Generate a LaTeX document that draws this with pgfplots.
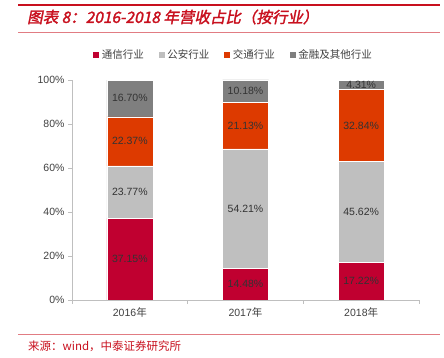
\documentclass[border=0pt]{standalone}
\usepackage{pgfplots}
\pgfplotsset{compat=1.18}
\usepackage{fontspec}
\setmainfont{Liberation Sans}
\newfontfamily\cjk{Noto Sans CJK SC}
\newfontfamily\cjktitle[FakeSlant=0.2,FakeBold=2]{Noto Sans CJK SC}
\definecolor{c1}{RGB}{192,0,48}
\definecolor{c2}{RGB}{191,191,191}
\definecolor{c3}{RGB}{221,58,0}
\definecolor{c4}{RGB}{127,127,127}
\definecolor{titlered}{RGB}{200,16,30}
\definecolor{axgray}{RGB}{191,191,191}
\definecolor{txt}{RGB}{64,64,64}
\begin{document}
\begin{tikzpicture}[x=1pt,y=1pt]
\path[use as bounding box] (0,0) rectangle (444,358);
\draw[titlered, line width=2.5pt] (18,353) -- (440,353);
\node[anchor=west, text=titlered, font=\cjktitle\fontsize{15.5}{17}\selectfont, inner sep=0pt] at (27,341) {图表 8：2016-2018 年营收占比（按行业）};
\draw[titlered!55, line width=0.6pt] (18,326) -- (440,326);
\draw[titlered!55, line width=0.6pt] (18,24) -- (440,24);
\node[anchor=west, text=titlered, font=\cjk\fontsize{11.5}{13}\selectfont, inner sep=0pt] at (28,12) {来源：wind，中泰证券研究所};
\begin{axis}[
  at={(72pt,58pt)}, anchor=south west,
  scale only axis, width=347pt, height=220pt,
  ybar stacked, bar width=46pt,
  xmin=-0.5, xmax=2.5, ymin=0, ymax=100,
  axis x line*=bottom, axis y line*=left,
  axis line style={axgray, line width=0.8pt},
  tick style={axgray, line width=0.8pt},
  tick align=outside,
  ytick={0,20,...,100},
  yticklabel={\pgfmathprintnumber{\tick}\%},
  xtick={0,1,2},
  xticklabels={2016{\cjk 年},2017{\cjk 年},2018{\cjk 年}},
  major x tick style={draw=none},
  minor xtick={-0.5,0.5,1.5,2.5},
  minor tick length=4pt, major tick length=4pt,
  ticklabel style={font=\fontsize{10.5}{12}\selectfont, text=txt},
  /pgf/number format/assume math mode=true,
  legend style={at={(0.464,1.114)}, anchor=center, legend columns=4, draw=none,
    font=\cjk\fontsize{10.5}{12}\selectfont, text=txt,
    /tikz/every even column/.append style={column sep=12pt}},
  legend image code/.code={\fill[#1] (0pt,-3.5pt) rectangle (7pt,3.5pt);},
]
\addplot[fill=c1, draw=white, line width=0.5pt] coordinates {(0,37.15) (1,14.48) (2,17.22)};
\addlegendentry{通信行业}
\addplot[fill=c2, draw=white, line width=0.5pt] coordinates {(0,23.77) (1,54.21) (2,45.62)};
\addlegendentry{公安行业}
\addplot[fill=c3, draw=white, line width=0.5pt] coordinates {(0,22.37) (1,21.13) (2,32.84)};
\addlegendentry{交通行业}
\addplot[fill=c4, draw=white, line width=0.5pt] coordinates {(0,16.70) (1,10.18) (2,4.31)};
\addlegendentry{金融及其他行业}
\end{axis}
\begin{axis}[
  at={(72pt,58pt)}, anchor=south west,
  scale only axis, width=347pt, height=220pt,
  xmin=-0.5, xmax=2.5, ymin=0, ymax=100, hide axis,
]
\addplot[draw=none, mark=none, nodes near coords, point meta=explicit symbolic,
  nodes near coords align={center},
  every node near coord/.append style={font=\fontsize{10.5}{12}\selectfont, text=black!80, inner sep=0pt}]
  coordinates {
  (0,18.575)[37.15\%] (0,49.035)[23.77\%] (0,72.105)[22.37\%] (0,91.65)[16.70\%]
  (1,7.24)[14.48\%] (1,41.585)[54.21\%] (1,79.255)[21.13\%] (1,94.91)[10.18\%]
  (2,8.61)[17.22\%] (2,40.03)[45.62\%] (2,79.26)[32.84\%] (2,97.845)[4.31\%]
  };
\end{axis}
\end{tikzpicture}
\end{document}
